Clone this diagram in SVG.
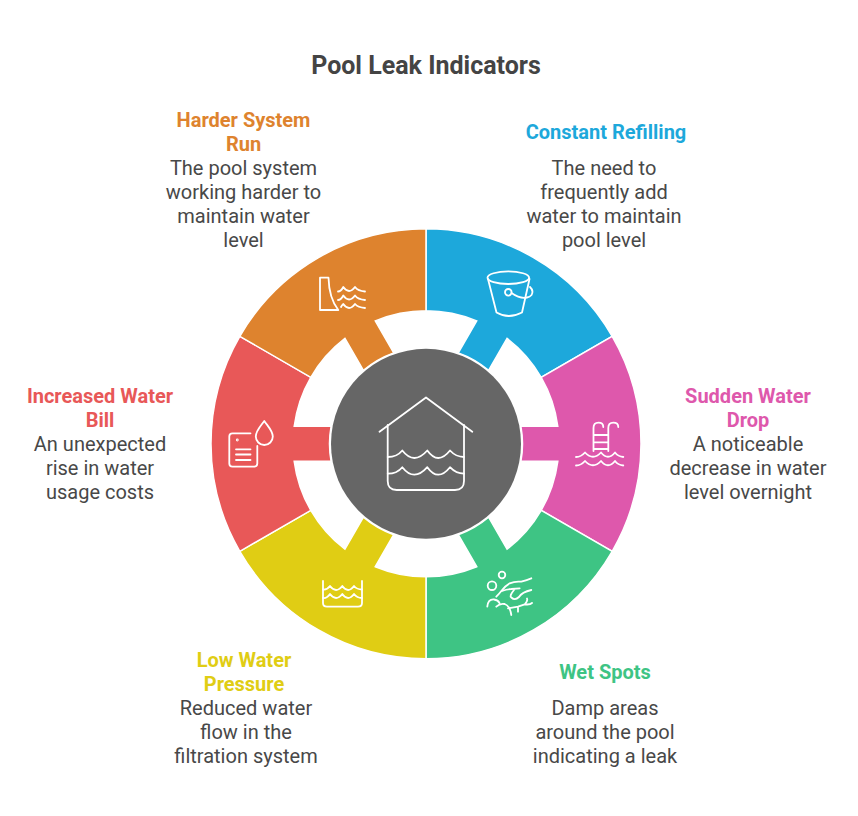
<svg xmlns="http://www.w3.org/2000/svg" width="858" height="816" viewBox="0 0 858 816">
<style>
text{font-family:Roboto,"Liberation Sans",sans-serif;text-anchor:middle}
.t{font-size:25px;font-weight:700;fill:#444}
.h{font-size:20px;font-weight:700}
.b{font-size:20px;fill:#484848}
.i{fill:none;stroke:#fff;stroke-width:1.8;stroke-linecap:round;stroke-linejoin:round}
.w{stroke:#fff;stroke-width:1.5}
</style>
<defs>
<path id="wedge" d="M-107.5 -186.2A215 215 0 0 1 107.5 -186.2L66.5 -115.2A133 133 0 0 0 17.5 -131.8L17.5 -94.9A96.5 96.5 0 0 0 -17.5 -94.9L-17.5 -131.8A133 133 0 0 0 -66.5 -115.2Z"/>
</defs>
<rect width="858" height="816" fill="#fff"/>
<text class="t" x="426" y="73.600">Pool Leak Indicators</text>
<g id="connectors"></g>
<g id="node-refilling">
<use href="#wedge" class="w" fill="#1DA8DB" transform="translate(426 443.8) rotate(30)"/>
<g class="i"><ellipse cx="508.3" cy="277.7" rx="20.8" ry="6.3"/><path d="M488 279L496.500 312.500Q508.500 319.500 522 312.500L529.500 279"/><circle cx="508.300" cy="292.300" r="3.300"/><path d="M511.500 293Q520 299 527 297.500M530 287Q534 291 531.500 295Q530 297 527 297.500"/></g>
<text class="h" x="606" y="139" style="fill:#1DA8DB">Constant Refilling</text>
<text class="b" x="604" y="175">The need to</text><text class="b" x="604" y="199">frequently add</text><text class="b" x="604" y="223">water to maintain</text><text class="b" x="604" y="247">pool level</text>
</g>
<g id="node-drop">
<use href="#wedge" class="w" fill="#DE58AC" transform="translate(426 443.8) rotate(90)"/>
<g class="i"><path d="M593.500 451V428Q593.500 422.700 598.500 422.700Q603.300 422.700 603.300 427M608.300 451V428Q608.300 422.700 613.300 422.700Q618.300 422.700 618.300 427M593.500 435H608.300M593.500 442.300H608.300M593.500 449H608.300"/><path d="M576 457Q581 457 585 452.500Q593 461 601 452.500Q608 461 615 452.500Q618 456.500 623.300 457"/><path d="M576 465.500Q581 465.500 585 461Q593 469.500 601 461Q608 469.500 615 461Q618 465 623.300 465.500"/></g>
<text class="h" x="748" y="403" style="fill:#DE58AC">Sudden Water</text><text class="h" x="748" y="427" style="fill:#DE58AC">Drop</text>
<text class="b" x="748" y="451">A noticeable</text><text class="b" x="748" y="475">decrease in water</text><text class="b" x="748" y="499">level overnight</text>
</g>
<g id="node-wet">
<use href="#wedge" class="w" fill="#3EC484" transform="translate(426 443.8) rotate(150)"/>
<g class="i"><circle cx="502" cy="575" r="3.300"/><circle cx="492" cy="585.700" r="4.300"/><path d="M496.300 596.700Q499 594 501.300 591Q505 586 509.700 583.300Q515 581 521.300 581.700Q527 580 531.300 578.300"/><path d="M502 591Q507 589 511.300 589L519.700 588.300"/><path d="M514 590Q509 596 511.300 597.500Q515 601 519 597Q522 592 531.300 590"/><path d="M487.300 606.700Q488 599 494 599.500Q498 600 499.700 603.300"/><path d="M496.300 606.700Q500 603 504.700 604Q510 606 511.300 615"/><path d="M508 608.300L518 606.700L524.700 604.300Q530 605 532 603M518 606.700V611.700M524.700 604.300Q528 601 527 598.500"/></g>
<text class="h" x="605" y="679" style="fill:#3EC484">Wet Spots</text>
<text class="b" x="605" y="715">Damp areas</text><text class="b" x="605" y="739">around the pool</text><text class="b" x="605" y="763">indicating a leak</text>
</g>
<g id="node-pressure">
<use href="#wedge" class="w" fill="#E0CD14" transform="translate(426 443.800) rotate(210)"/>
<g class="i"><path d="M323 581V603Q323 606.700 327 606.700H358Q362 606.700 362 603V581"/><path d="M323 589.500Q327 590 330 586Q336 594 342.300 586Q348 594 354 586Q357 589.500 362 589.500"/><path d="M323 598Q327 598.500 330 594Q336 602 342.300 594Q348 602 354 594Q357 598 362 598"/></g>
<text class="h" x="244" y="667" style="fill:#E0CD14">Low Water</text><text class="h" x="244" y="691" style="fill:#E0CD14">Pressure</text>
<text class="b" x="246" y="715">Reduced water</text><text class="b" x="246" y="739">flow in the</text><text class="b" x="246" y="763">filtration system</text>
</g>
<g id="node-bill">
<use href="#wedge" class="w" fill="#E85858" transform="translate(426 443.800) rotate(270)"/>
<g class="i"><path d="M250.500 433.300H232.500Q229.300 433.300 229.300 436.500V463.500Q229.300 466.700 232.500 466.700H254Q257.300 466.700 257.300 463.500V446"/><path d="M236 449.300H250.500M236 454.500H250.500M236 460H250.500"/><circle cx="237.300" cy="440" r=".5"/><path d="M264.300 421C260 427 255.800 431 255.800 436.500A8.500 8.500 0 0 0 272.800 436.500C272.800 431 268.500 427 264.300 421Z"/></g>
<text class="h" x="100" y="403" style="fill:#E85858">Increased Water</text><text class="h" x="100" y="427" style="fill:#E85858">Bill</text>
<text class="b" x="100" y="451">An unexpected</text><text class="b" x="100" y="475">rise in water</text><text class="b" x="100" y="499">usage costs</text>
</g>
<g id="node-harder">
<use href="#wedge" class="w" fill="#DE832E" transform="translate(426 443.800) rotate(330)"/>
<g class="i"><path d="M320 277.700H328.500Q329 298 338.300 310H320Z"/><path d="M338 291.500Q341 291.500 343.300 287Q349 295 355 287Q358 291 365 291.500"/><path d="M338 300Q341 300 343.300 295.500Q349 303.500 355 295.500Q358 299.500 365 300"/><path d="M341 307Q342 305 343.300 304Q349 312 355 304Q358 307.500 365 308"/></g>
<text class="h" x="243.500" y="127" style="fill:#DE832E">Harder System</text><text class="h" x="243.500" y="151" style="fill:#DE832E">Run</text>
<text class="b" x="243.500" y="175">The pool system</text><text class="b" x="243.500" y="199">working harder to</text><text class="b" x="243.500" y="223">maintain water</text><text class="b" x="243.500" y="247">level</text>
</g>
<g id="node-center">
<circle cx="426" cy="443.800" r="95" fill="#666"/>
<g class="i"><path d="M379.500 431.700L426 397.500L472.300 431.700"/><path d="M387.700 425V481Q387.700 490 396.700 490H455Q464 490 464 481V425"/><path d="M387.700 457Q397 457 402.300 450.500Q414 465.500 427.300 450.500Q438 465.500 450 450.500Q456 457 464 457"/><path d="M387.700 473.700Q397 473.700 402.300 467.200Q414 482.200 427.300 467.200Q438 482.200 450 467.200Q456 473.700 464 473.700"/></g>
</g>
</svg>
